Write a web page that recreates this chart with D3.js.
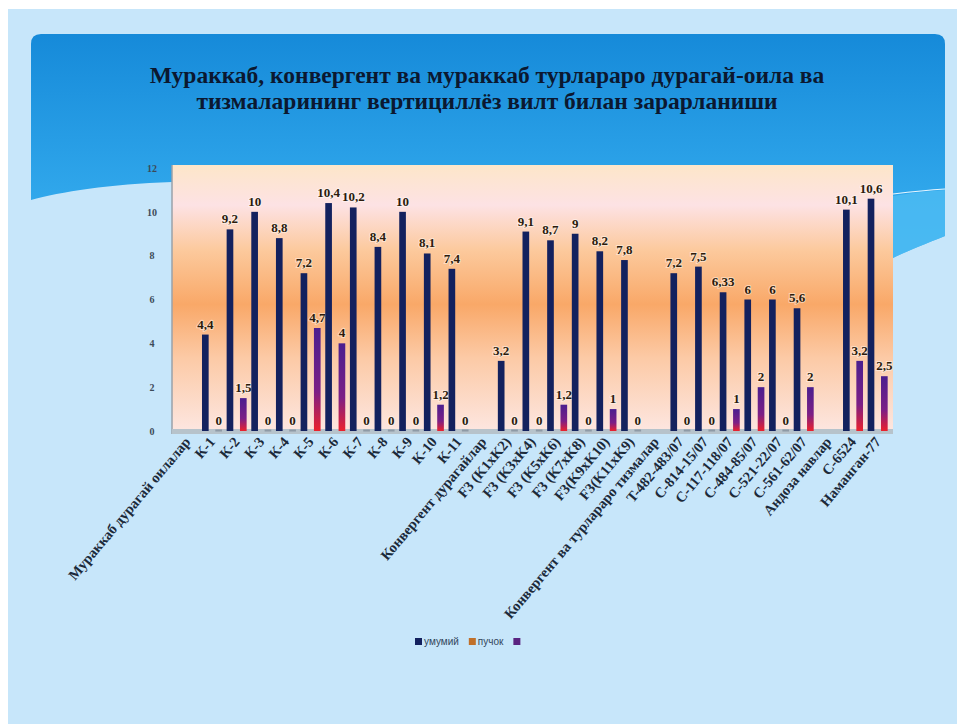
<!DOCTYPE html>
<html>
<head>
<meta charset="utf-8">
<script src="https://cdn.jsdelivr.net/npm/d3@7"></script>
<style>
  body { margin: 0; background: #fff; }
  svg { display: block; }
</style>
</head>
<body>
<script>
const w = 957; // width
const h = 724; // height

// chart data
const categories = [
    "Мураккаб дурагай оилалар", "К-1", "К-2", "К-3", "К-4", "К-5", "К-6", "К-7", "К-8", "К-9", "К-10", "К-11",
    "Конвергент дурагайлар", "F3 (K1xK2)", "F3 (K3xK4)", "F3 (K5xK6)", "F3 (K7xK8)", "F3(K9xK10)", "F3(K11xK9)",
    "Конвергент ва турлараро тизмалар", "T-482-483/07", "C-814-15/07", "C-117-118/07", "C-484-85/07",
    "C-521-22/07", "C-561-62/07", "Андоза навлар", "C-6524", "Наманган-77"
];
const seriesNames = ["умумий", "пучок", ""];
const umumiy = [null, 4.4, 9.2, 10, 8.8, 7.2, 10.4, 10.2, 8.4, 10, 8.1, 7.4,
    null, 3.2, 9.1, 8.7, 9, 8.2, 7.8,
    null, 7.2, 7.5, 6.33, 6, 6, 5.6,
    null, 10.1, 10.6];
const puchok = categories.map(() => null);
const third = [null, 0, 1.5, 0, 0, 4.7, 4, 0, 0, 0, 1.2, 0,
    null, 0, 0, 1.2, 0, 1, 0,
    null, 0, 0, 1, 2, 0, 2,
    null, 3.2, 2.5];
const yTicks = [0, 2, 4, 6, 8, 10, 12];
const titleLines = [
    "Мураккаб, конвергент ва мураккаб турлараро дурагай-оила ва",
    "тизмаларининг вертициллёз вилт билан зарарланиши"
];

const seriesValues = [umumiy, puchok, third];
const seriesColors = ["#13215e", "#c0702a", "#5a2380"];

let svg = d3.select("body")
    .append("svg")
    .attr('width', w)
    .attr('height', h);

let defs = svg.append("defs");

// panel gradient
let g1 = defs.append("linearGradient").attr("id", "panel").attr("x1", 0).attr("y1", 0).attr("x2", 0).attr("y2", 1);
g1.append("stop").attr("offset", "0%").attr("stop-color", "#168ad9");
g1.append("stop").attr("offset", "100%").attr("stop-color", "#3ab2f2");

// plot background gradient
let g2 = defs.append("linearGradient").attr("id", "plotbg").attr("x1", 0).attr("y1", 0).attr("x2", 0).attr("y2", 1);
[["0%", "#fde6c9"], ["15%", "#fde2e4"], ["32%", "#fcc99c"], ["52%", "#f9a868"], ["72%", "#fccaa6"], ["100%", "#fde7e2"]]
    .forEach(s => g2.append("stop").attr("offset", s[0]).attr("stop-color", s[1]));

// third series bar gradient
let g3 = defs.append("linearGradient").attr("id", "barGrad").attr("x1", 0).attr("y1", 0).attr("x2", 0).attr("y2", 1);
g3.append("stop").attr("offset", "0%").attr("stop-color", "#4a1f8f");
g3.append("stop").attr("offset", "62%").attr("stop-color", "#7c1f86");
g3.append("stop").attr("offset", "100%").attr("stop-color", "#ec222c");

// page background
svg.append("rect").attr("x", 8).attr("y", 9).attr("width", w - 8).attr("height", h - 9).attr("fill", "#c7e6fa");

// blue header panel with wave bottom
svg.append("path")
    .attr("d", "M31,44 Q31,34 41,34 L935,34 Q945,34 945,44 L945,236 C925,244 905,252 893,258 C700,200 400,175 172,182 C110,184 60,192 31,200 Z")
    .attr("fill", "url(#panel)");
svg.append("path")
    .attr("d", "M893,196 C910,193 930,191 945,190 L945,236 C925,244 905,252 893,258 Z")
    .attr("fill", "#4dbcf3")
    .attr("opacity", 0.8);
svg.append("path")
    .attr("d", "M893,194 C910,192 930,190 945,189")
    .attr("fill", "none").attr("stroke", "#e8f6ff").attr("stroke-width", 1.2);

// title
svg.append("text")
    .attr("x", 487)
    .attr("text-anchor", "middle")
    .attr("font-family", "'Liberation Serif', 'Times New Roman', serif")
    .attr("font-weight", "bold")
    .attr("font-size", 23.5)
    .attr("fill", "#0b1830")
    .selectAll("tspan")
    .data(titleLines)
    .enter()
    .append("tspan")
    .attr("x", 487)
    .attr("y", (d, i) => 83 + i * 26)
    .text(d => d);

// scales
let x = d3.scaleBand()
    .domain(categories)
    .range([175, 890]);

let x1 = d3.scaleBand()
    .domain(d3.range(seriesNames.length))
    .range([0, x.bandwidth()])
    .paddingOuter(0.35);

let y = d3.scaleLinear()
    .domain([0, 12])
    .range([431, 168]);

// plot area
svg.append("rect")
    .attr("x", 172).attr("y", 165)
    .attr("width", 721).attr("height", 268)
    .attr("fill", "url(#plotbg)");
svg.append("line")
    .attr("x1", 172).attr("x2", 172).attr("y1", 165).attr("y2", 434)
    .attr("stroke", "#9aa2aa").attr("stroke-width", 1.5);
// floor
svg.append("rect")
    .attr("x", 172).attr("y", y(0) - 2)
    .attr("width", 721).attr("height", 5)
    .attr("fill", "#b7c3cb");

// y axis
let axisY = d3.axisLeft(y).tickValues(yTicks).tickSize(0).tickPadding(0);
let gY = svg.append("g")
    .attr("transform", "translate(152,0)")
    .call(axisY);
gY.select(".domain").remove();
gY.selectAll("text")
    .attr("text-anchor", "middle")
    .attr("font-family", "'Liberation Serif', serif")
    .attr("font-weight", "bold")
    .attr("font-size", 10)
    .attr("fill", "#3c4a58");

// bars
let rows = categories.map((c, i) => ({ cat: c, vals: seriesValues.map(s => s[i]) }));
let groups = svg.selectAll("g.cat")
    .data(rows)
    .enter()
    .append("g")
    .attr("class", "cat")
    .attr("transform", d => `translate(${x(d.cat)},0)`);

let items = groups.selectAll("g.bar")
    .data(d => d.vals.map((v, k) => ({ k: k, v: v })).filter(e => e.v !== null))
    .enter()
    .append("g")
    .attr("class", "bar");

items.append("rect")
    .attr("x", d => x1(d.k))
    .attr("width", x1.bandwidth())
    .attr("y", d => d.v === 0 ? y(0) - 1.5 : y(d.v))
    .attr("height", d => d.v === 0 ? 2 : y(0) - y(d.v))
    .attr("fill", d => d.v === 0 ? "#8e9aa6" : (d.k === 2 ? "url(#barGrad)" : seriesColors[d.k]));

items.append("text")
    .attr("x", d => x1(d.k) + x1.bandwidth() / 2)
    .attr("y", d => y(d.v) - 6)
    .attr("text-anchor", "middle")
    .attr("font-family", "'Liberation Serif', serif")
    .attr("font-weight", "bold")
    .attr("font-size", 13)
    .attr("fill", "#2b1b0c")
    .attr("stroke", "rgba(255,255,255,0.45)")
    .attr("stroke-width", 2)
    .attr("paint-order", "stroke")
    .text(d => String(d.v).replace(".", ","));

// x axis labels
let axisX = d3.axisBottom(x).tickSize(0).tickPadding(0);
let gX = svg.append("g")
    .attr("transform", `translate(0,${y(0) + 8})`)
    .call(axisX);
gX.select(".domain").remove();
gX.selectAll("text")
    .attr("text-anchor", "end")
    .attr("dy", "0.35em")
    .attr("transform", "rotate(-50)")
    .attr("font-family", "'Liberation Serif', serif")
    .attr("font-weight", "bold")
    .attr("font-size", 14.5)
    .attr("fill", "#1c2a3a");

// legend
let legend = svg.append("g").attr("transform", "translate(415,642)");
let lx = 0;
seriesNames.forEach((name, i) => {
    legend.append("rect")
        .attr("x", lx).attr("y", -4)
        .attr("width", 7).attr("height", 7)
        .attr("fill", seriesColors[i]);
    let t = legend.append("text")
        .attr("x", lx + 9).attr("y", 3)
        .attr("font-family", "'Liberation Sans', sans-serif")
        .attr("font-size", 10)
        .attr("fill", "#33475b")
        .text(name);
    lx += 9 + t.node().getComputedTextLength() + 10;
});
</script>
</body>
</html>
